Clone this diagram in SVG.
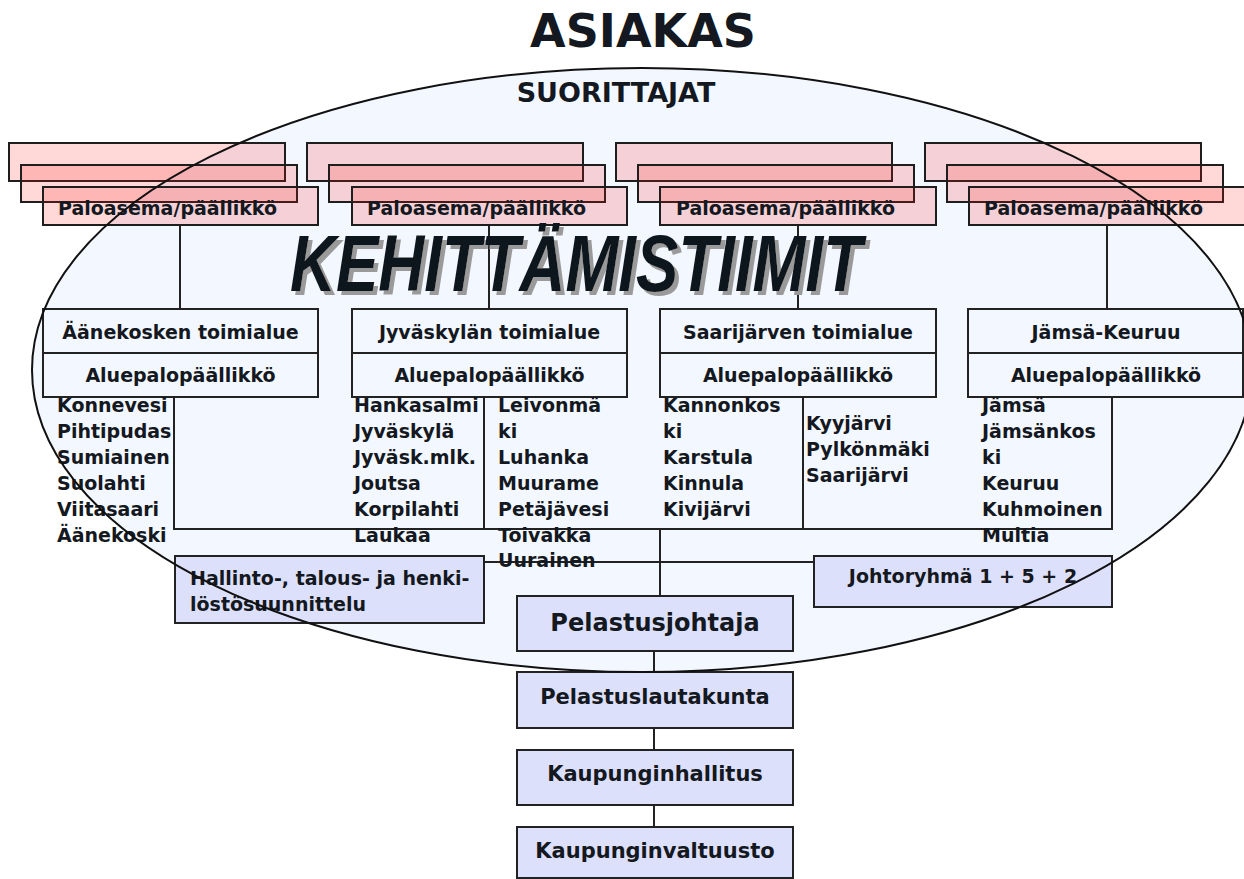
<svg xmlns="http://www.w3.org/2000/svg" width="1244" height="879" viewBox="0 0 1244 879">
<style>
.t{font-family:"DejaVu Sans","Liberation Sans",sans-serif;font-weight:bold;fill:#141820;font-size:19px}
.c{text-anchor:middle}
.ln{stroke:#222;stroke-width:2;fill:none}
.red{fill:#FF1A10;fill-opacity:0.17;stroke:#1e1e1e;stroke-width:2}
.bx{fill:none;stroke:#222;stroke-width:2}
.lav{fill:#DDE0FB;stroke:#222;stroke-width:2}
</style>
<defs>
<filter id="shadow" x="-5%" y="-20%" width="115%" height="150%">
<feOffset in="SourceAlpha" dx="4" dy="4" result="off"/>
<feFlood flood-color="#9a9a9a"/>
<feComposite in2="off" operator="in" result="sh"/>
<feMerge><feMergeNode in="sh"/><feMergeNode in="SourceGraphic"/></feMerge>
</filter>
</defs>
<rect width="1244" height="879" fill="#ffffff"/>
<ellipse cx="642" cy="370" rx="610" ry="302" fill="#F3F7FF"/>
<text class="t c" x="643" y="47" style="font-size:46px">ASIAKAS</text>
<text class="t c" x="616" y="102" style="font-size:27px">SUORITTAJAT</text>

<g id="paloasema1">
<rect class="red" x="9" y="143" width="276" height="38"/>
<rect class="red" x="21" y="165" width="276" height="37"/>
<rect class="red" x="43" y="187" width="275" height="38"/>
<text class="t" x="58" y="215">Paloasema/päällikkö</text>
</g>
<g id="paloasema2">
<rect class="red" x="307" y="143" width="276" height="38"/>
<rect class="red" x="329" y="165" width="276" height="37"/>
<rect class="red" x="352" y="187" width="275" height="38"/>
<text class="t" x="367" y="215">Paloasema/päällikkö</text>
</g>
<g id="paloasema3">
<rect class="red" x="616" y="143" width="276" height="38"/>
<rect class="red" x="638" y="165" width="276" height="37"/>
<rect class="red" x="660" y="187" width="276" height="38"/>
<text class="t" x="676" y="215">Paloasema/päällikkö</text>
</g>
<g id="paloasema4">
<rect class="red" x="925" y="143" width="276" height="38"/>
<rect class="red" x="947" y="165" width="276" height="37"/>
<rect class="red" x="969" y="187" width="276" height="38"/>
<text class="t" x="984" y="215">Paloasema/päällikkö</text>
</g>

<g id="connectors">
<line class="ln" x1="180" y1="225" x2="180" y2="309"/>
<line class="ln" x1="489" y1="225" x2="489" y2="309"/>
<line class="ln" x1="798" y1="225" x2="798" y2="309"/>
<line class="ln" x1="1107" y1="225" x2="1107" y2="309"/>
<line class="ln" x1="174" y1="397" x2="174" y2="529"/>
<line class="ln" x1="484" y1="397" x2="484" y2="529"/>
<line class="ln" x1="803" y1="397" x2="803" y2="529"/>
<line class="ln" x1="1112" y1="397" x2="1112" y2="529"/>
<line class="ln" x1="173" y1="529" x2="1113" y2="529"/>
<line class="ln" x1="660" y1="529" x2="660" y2="596"/>
<line class="ln" x1="484" y1="562" x2="814" y2="562"/>
<line class="ln" x1="654" y1="651" x2="654" y2="672"/>
<line class="ln" x1="654" y1="728" x2="654" y2="750"/>
<line class="ln" x1="654" y1="805" x2="654" y2="827"/>
</g>

<g id="kehittamistiimit">
<text x="290" y="291" font-family="Liberation Sans, Arial, sans-serif" font-weight="bold" font-style="italic" font-size="80" fill="#11141c" textLength="572" lengthAdjust="spacingAndGlyphs" filter="url(#shadow)">KEHITTÄMISTIIMIT</text>
</g>

<g id="aanekoski">
<rect class="bx" x="43" y="309" width="275" height="88"/>
<line class="ln" x1="43" y1="353" x2="318" y2="353"/>
<text class="t c" x="180.5" y="339">Äänekosken toimialue</text>
<text class="t c" x="180.5" y="382">Aluepalopäällikkö</text>
<text class="t" x="57" y="412">Konnevesi</text>
<text class="t" x="57" y="438">Pihtipudas</text>
<text class="t" x="57" y="464">Sumiainen</text>
<text class="t" x="57" y="490">Suolahti</text>
<text class="t" x="57" y="516">Viitasaari</text>
<text class="t" x="57" y="542">Äänekoski</text>
</g>

<g id="jyvaskyla">
<rect class="bx" x="352" y="309" width="275" height="88"/>
<line class="ln" x1="352" y1="353" x2="627" y2="353"/>
<text class="t c" x="489.5" y="339">Jyväskylän toimialue</text>
<text class="t c" x="489.5" y="382">Aluepalopäällikkö</text>
<text class="t" x="354" y="412">Hankasalmi</text>
<text class="t" x="354" y="438">Jyväskylä</text>
<text class="t" x="354" y="464">Jyväsk.mlk.</text>
<text class="t" x="354" y="490">Joutsa</text>
<text class="t" x="354" y="516">Korpilahti</text>
<text class="t" x="354" y="542">Laukaa</text>
<text class="t" x="498" y="412">Leivonmä</text>
<text class="t" x="498" y="438">ki</text>
<text class="t" x="498" y="464">Luhanka</text>
<text class="t" x="498" y="490">Muurame</text>
<text class="t" x="498" y="516">Petäjävesi</text>
<text class="t" x="498" y="542">Toivakka</text>
<text class="t" x="498" y="567">Uurainen</text>
</g>

<g id="saarijarvi">
<rect class="bx" x="660" y="309" width="276" height="88"/>
<line class="ln" x1="660" y1="353" x2="936" y2="353"/>
<text class="t c" x="798" y="339">Saarijärven toimialue</text>
<text class="t c" x="798" y="382">Aluepalopäällikkö</text>
<text class="t" x="663" y="412">Kannonkos</text>
<text class="t" x="663" y="438">ki</text>
<text class="t" x="663" y="464">Karstula</text>
<text class="t" x="663" y="490">Kinnula</text>
<text class="t" x="663" y="516">Kivijärvi</text>
<text class="t" x="806" y="430">Kyyjärvi</text>
<text class="t" x="806" y="456">Pylkönmäki</text>
<text class="t" x="806" y="482">Saarijärvi</text>
</g>

<g id="jamsa">
<rect class="bx" x="968" y="309" width="275" height="88"/>
<line class="ln" x1="968" y1="353" x2="1243" y2="353"/>
<text class="t c" x="1106" y="339">Jämsä-Keuruu</text>
<text class="t c" x="1106" y="382">Aluepalopäällikkö</text>
<text class="t" x="982" y="412">Jämsä</text>
<text class="t" x="982" y="438">Jämsänkos</text>
<text class="t" x="982" y="464">ki</text>
<text class="t" x="982" y="490">Keuruu</text>
<text class="t" x="982" y="516">Kuhmoinen</text>
<text class="t" x="982" y="542">Multia</text>
</g>

<g id="hallinto">
<rect class="lav" x="175" y="556" width="309" height="67"/>
<text class="t" x="190" y="585">Hallinto-, talous- ja henki-</text>
<text class="t" x="190" y="611">löstösuunnittelu</text>
</g>
<g id="johtoryhma">
<rect class="lav" x="814" y="556" width="298" height="51"/>
<text class="t c" x="963" y="583">Johtoryhmä 1 + 5 + 2</text>
</g>
<g id="pelastusjohtaja">
<rect class="lav" x="517" y="596" width="276" height="55"/>
<text class="t c" x="655" y="631" style="font-size:24px">Pelastusjohtaja</text>
</g>
<g id="pelastuslautakunta">
<rect class="lav" x="517" y="672" width="276" height="56"/>
<text class="t c" x="655" y="704" style="font-size:21px">Pelastuslautakunta</text>
</g>
<g id="kaupunginhallitus">
<rect class="lav" x="517" y="750" width="276" height="55"/>
<text class="t c" x="655" y="781" style="font-size:21px">Kaupunginhallitus</text>
</g>
<g id="kaupunginvaltuusto">
<rect class="lav" x="517" y="827" width="276" height="51"/>
<text class="t c" x="655" y="858" style="font-size:21px">Kaupunginvaltuusto</text>
</g>

<ellipse cx="642" cy="370" rx="610" ry="302" fill="none" stroke="#111" stroke-width="2"/>
</svg>
